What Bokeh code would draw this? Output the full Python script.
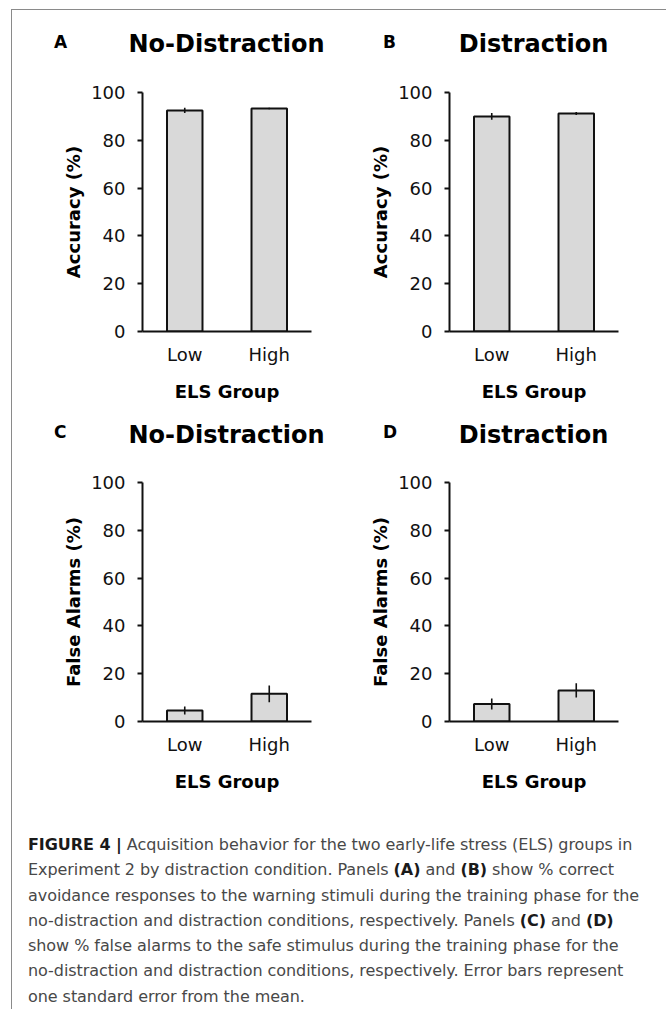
from bokeh.plotting import figure
from bokeh.models import FactorRange, Range1d, Div, ColumnDataSource, FixedTicker
from bokeh.layouts import column, row
from bokeh.embed import file_html
from bokeh.resources import INLINE

# ---- data ----
groups = ["Low", "High"]
acc_nodist = [92.5, 93.3]
acc_nodist_se = [1.1, 0.3]
acc_dist = [90.0, 91.2]
acc_dist_se = [1.4, 0.6]
fa_nodist = [4.6, 11.6]
fa_nodist_se = [1.7, 3.5]
fa_dist = [7.3, 13.0]
fa_dist_se = [2.3, 3.0]
y_ticks = [0, 20, 40, 60, 80, 100]
letters = ["A", "B", "C", "D"]
titles = ["No-Distraction", "Distraction", "No-Distraction", "Distraction"]
y_labels = ["Accuracy (%)", "Accuracy (%)", "False Alarms (%)", "False Alarms (%)"]
x_label = "ELS Group"

FONT = "DejaVu Sans"


def make_panel(letter, title, ylabel, vals, ses, left_col, top_row):
    mbl = 130 if left_col else 117
    mbr = 21 if left_col else 20
    mbt = 20
    mbb = 84
    fw, fh = 169, 239
    W, H = mbl + fw + mbr, mbt + fh + mbb
    p = figure(x_range=FactorRange(*groups), y_range=Range1d(0, 100),
               width=W, height=H,
               output_backend="svg", toolbar_location=None,
               min_border_left=mbl, min_border_right=mbr,
               min_border_top=mbt, min_border_bottom=mbb,
               outline_line_color=None, background_fill_color="white",
               border_fill_color="white")
    src = ColumnDataSource(dict(
        g=groups, v=vals,
        lo=[v - s for v, s in zip(vals, ses)],
        hi=[v + s for v, s in zip(vals, ses)]))
    p.vbar(x="g", top="v", bottom=0, width=0.42, source=src,
           fill_color="#d9d9d9", line_color="#111111", line_width=2)
    p.segment(x0="g", y0="lo", x1="g", y1="hi", source=src,
              line_color="#111111", line_width=1.6)

    p.xgrid.visible = False
    p.ygrid.visible = False

    ya = p.yaxis[0]
    ya.ticker = FixedTicker(ticks=y_ticks)
    ya.axis_label = ylabel
    ya.axis_label_text_font = FONT
    ya.axis_label_text_font_size = "18px"
    ya.axis_label_text_font_style = "bold"
    ya.axis_label_text_color = "#000000"
    ya.axis_label_standoff = 4
    ya.major_label_text_font = FONT
    ya.major_label_text_font_size = "18px"
    ya.major_label_text_color = "#111111"
    ya.major_label_standoff = 12
    ya.major_tick_out = 5
    ya.major_tick_in = 0
    ya.minor_tick_out = 0
    ya.minor_tick_in = 0
    ya.axis_line_width = 2
    ya.major_tick_line_width = 2
    ya.axis_line_color = "#111111"
    ya.major_tick_line_color = "#111111"

    xa = p.xaxis[0]
    xa.axis_label = x_label
    xa.axis_label_text_font = FONT
    xa.axis_label_text_font_size = "18px"
    xa.axis_label_text_font_style = "bold"
    xa.axis_label_text_color = "#000000"
    xa.axis_label_standoff = 13
    xa.major_label_text_font = FONT
    xa.major_label_text_font_size = "18px"
    xa.major_label_text_color = "#111111"
    xa.major_label_standoff = 12
    xa.major_tick_out = 0
    xa.major_tick_in = 0
    xa.axis_line_width = 2
    xa.axis_line_color = "#111111"

    # header with panel letter and title
    head_h = 62 if top_row else 47
    title_top = 21.7 if top_row else 7.7
    letter_top = 23.6 if top_row else 8.6
    lx = 42 if left_col else 51
    cx = mbl + fw / 2
    html = (
        f'<div style="position:relative; width:{W}px; height:{head_h}px; '
        f'font-family:\'DejaVu Sans\'; font-weight:bold; color:#000;">'
        f'<div style="position:absolute; left:{lx}px; top:{letter_top}px; '
        f'font-size:17px; line-height:1;">{letter}</div>'
        f'<div style="position:absolute; left:{cx - 150}px; width:300px; top:{title_top}px; '
        f'text-align:center; font-size:24px; line-height:1; white-space:nowrap;">{title}</div>'
        f'</div>'
    )
    head = Div(text=html, width=W, height=head_h, margin=(0, 0, 0, 0))
    return column(head, p, spacing=0)


pA = make_panel(letters[0], titles[0], y_labels[0], acc_nodist, acc_nodist_se, True, True)
pB = make_panel(letters[1], titles[1], y_labels[1], acc_dist, acc_dist_se, False, True)
pC = make_panel(letters[2], titles[2], y_labels[2], fa_nodist, fa_nodist_se, True, False)
pD = make_panel(letters[3], titles[3], y_labels[3], fa_dist, fa_dist_se, False, False)

caption_html = (
    '<div style="padding:27px 0 0 16px; font-family:\'DejaVu Sans\'; font-size:16px; '
    'line-height:25.3px; letter-spacing:-0.06px; color:#484848; white-space:nowrap;">'
    '<b style="color:#1a1a1a">FIGURE 4 |</b> Acquisition behavior for the two early-life stress (ELS) groups in<br>'
    'Experiment 2 by distraction condition. Panels <b style="color:#1a1a1a">(A)</b> and '
    '<b style="color:#1a1a1a">(B)</b> show % correct<br>'
    'avoidance responses to the warning stimuli during the training phase for the<br>'
    'no-distraction and distraction conditions, respectively. Panels '
    '<b style="color:#1a1a1a">(C)</b> and <b style="color:#1a1a1a">(D)</b><br>'
    'show % false alarms to the safe stimulus during the training phase for the<br>'
    'no-distraction and distraction conditions, respectively. Error bars represent<br>'
    'one standard error from the mean.'
    '</div>'
)
cap = Div(text=caption_html, width=654, height=204, margin=(0, 0, 0, 0))

layout = column(row(pA, pB, spacing=0), row(pC, pD, spacing=0), cap,
                spacing=0, margin=(9, 0, 0, 11),
                styles={"border-left": "1px solid #8a8a8a",
                        "border-top": "1px solid #8a8a8a"})

open("out.html", "w").write(file_html(layout, INLINE))
